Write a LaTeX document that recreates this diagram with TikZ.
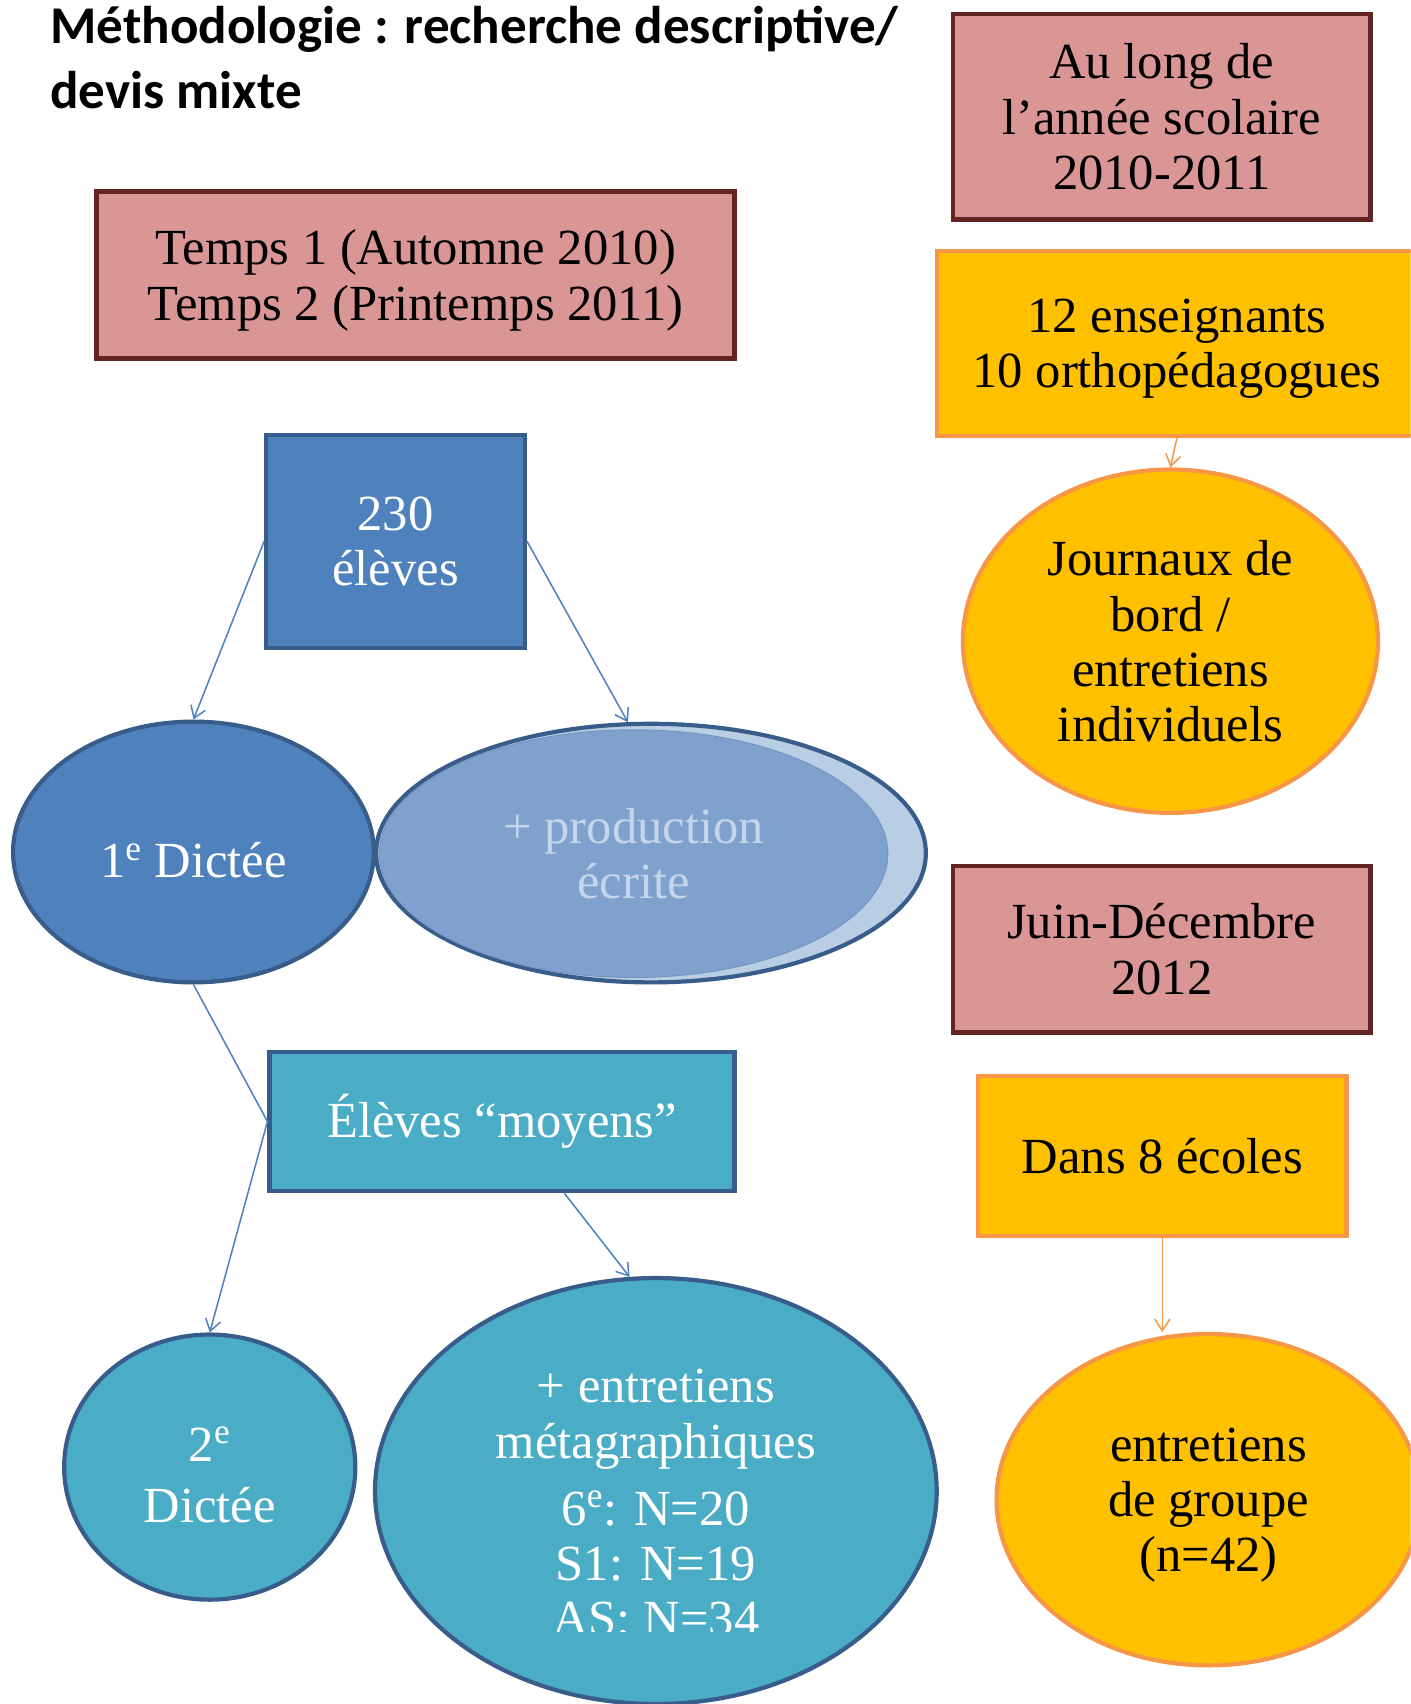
\documentclass[tikz,border=0pt]{standalone}
\usepackage{fontspec}
\setmainfont{Liberation Serif}
\newfontfamily\titlefont{Carlito}
\usetikzlibrary{shapes.geometric,arrows.meta}
\definecolor{rosefill}{HTML}{D99694}
\definecolor{roseline}{HTML}{632523}
\definecolor{orfill}{HTML}{FFC000}
\definecolor{orline}{HTML}{F79646}
\definecolor{bleufill}{HTML}{4F81BD}
\definecolor{bleuline}{HTML}{385D8A}
\definecolor{bleupale}{HTML}{B9CDE5}
\definecolor{bleumoyen}{HTML}{7EA1CE}
\definecolor{bleutexte}{HTML}{C6D5EA}
\definecolor{aquafill}{HTML}{4BACC6}
\begin{document}
\begin{tikzpicture}[x=0.02cm,y=-0.02cm]
      \tikzset{txt/.style={align=center, inner sep=0pt, font=\fontsize{26.5}{29}\selectfont},
        datebox/.style={txt, rectangle, draw=roseline, fill=rosefill, line width=2.4pt},
        groupbox/.style={txt, rectangle, draw=orline, fill=orfill, line width=2.2pt},
        groupbulle/.style={groupbox, ellipse},
        elevebox/.style={txt, rectangle, draw=bleuline, fill=bleufill, line width=2.2pt, text=white},
        elevebulle/.style={elevebox, ellipse},
        moyenbox/.style={elevebox, fill=aquafill},
        moyenbulle/.style={moyenbox, ellipse},
        link/.style={color=bleufill, line width=0.8pt, -{Straight Barb[length=6pt,width=8pt]}},
        trait/.style={color=bleufill, line width=0.8pt},
        orlink/.style={color=orline, line width=0.8pt, -{Straight Barb[length=6pt,width=8pt]}}}
      \clip (0,0) rectangle (1298,1568);
%% Titre
      \node[anchor=north west, inner sep=0pt, align=left, font=\titlefont\bfseries\fontsize{27.8}{34.4}\selectfont] (titre) at (46,5) {Méthodologie : recherche descriptive/\\devis mixte};
%% Colonne de droite
      \node[datebox, minimum width=7.68cm, minimum height=3.78cm] (annee) at (1069,107.5) {Au long de\\l’année scolaire\\2010-2011};
      \node[groupbox, minimum width=8.84cm, minimum height=3.4cm, text depth=0pt] (ens) at (1083,316) {12 enseignants\\10 orthopédagogues};
      \node[groupbulle, minimum width=7.64cm, minimum height=6.32cm, text depth=-3pt] (journ) at (1077,590) {Journaux de\\bord /\\entretiens\\individuels};
      \node[datebox, minimum width=7.68cm, minimum height=3.06cm] (juin) at (1069,873.5) {Juin-Décembre\\2012};
      \node[groupbox, minimum width=6.78cm, minimum height=2.94cm] (dans) at (1069.5,1063.5) {Dans 8 écoles};
      \node[groupbulle, minimum width=7.8cm, minimum height=6.1cm, text depth=-3pt] (grp) at (1112,1380) {entretiens\\de groupe\\(n=42)};
%% Colonne de gauche
      \node[datebox, minimum width=11.74cm, minimum height=3.08cm, text depth=0pt] (temps) at (382.5,253) {Temps 1 (Automne 2010)\\Temps 2 (Printemps 2011)};
      \node[elevebox, minimum width=4.76cm, minimum height=3.92cm] (eleves) at (364,498) {230\\élèves};
      \node[elevebulle, minimum width=6.64cm, minimum height=4.8cm, text height=27pt] (dict1) at (178,784) {1\textsuperscript{e} Dictée};
      \node[elevebulle, fill=bleupale, minimum width=10.12cm, minimum height=4.76cm] (prod) at (599,785) {};
      \node[txt, ellipse, fill=bleumoyen, draw=bleumoyen!92!black, line width=0.5pt, text=bleutexte, minimum width=9.36cm, minimum height=4.56cm] (prodin) at (583,785.5) {+ production\\écrite};
      \node[moyenbox, minimum width=8.56cm, minimum height=2.56cm] (moyens) at (462,1032) {Élèves “moyens”};
      \node[moyenbulle, minimum width=5.36cm, minimum height=4.88cm, text height=58pt] (dict2) at (193,1350) {2\textsuperscript{e}\\[3pt]Dictée};
      \node[moyenbulle, minimum width=10.34cm, minimum height=7.84cm] (metag) at (603.5,1372) {};
      \begin{scope}
        \clip (300,1100) rectangle (900,1501);
        \node[txt, text=white] (metagtxt) at (603.5,1383) {+ entretiens\\métagraphiques\\[6pt]6\textsuperscript{e}: N=20\\S1: N=19\\AS: N=34};
      \end{scope}
%Liens
      \path[link] (eleves.west) edge (dict1.north);
      \path[link] (eleves.east) edge (prod.100);
      \path[trait] (dict1.south) edge (moyens.west);
      \path[link] (moyens.west) edge (dict2.north);
      \path[link] (moyens.311) edge (metag.97);
      \path[orlink] (ens.south) edge (journ.north);
      \path[orlink] (dans.south) edge (dans.south |- grp.north);
\end{tikzpicture}
\end{document}
